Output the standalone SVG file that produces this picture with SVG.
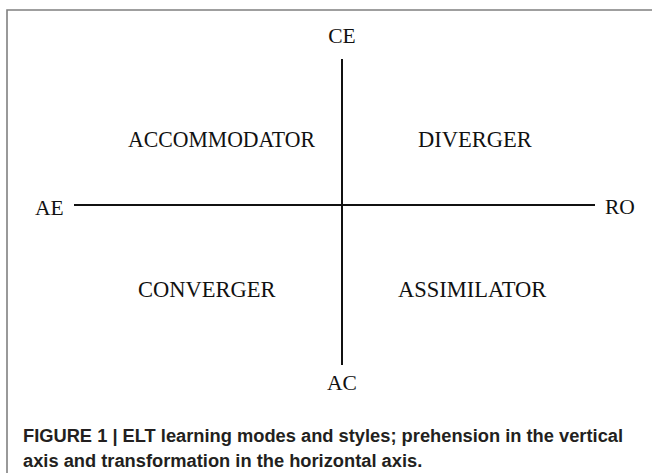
<svg xmlns="http://www.w3.org/2000/svg" width="652" height="473" viewBox="0 0 652 473">
<style>
.lbl{font-family:"Liberation Serif","Times New Roman",serif;font-size:22.5px;fill:#111}
.ax{font-family:"Liberation Serif","Times New Roman",serif;font-size:21.5px;fill:#111}
.cap{font-family:"Liberation Sans",Arial,sans-serif;font-size:18.3px;font-weight:bold;fill:#231f20}
.axis{stroke:#111;stroke-width:2;fill:none}
</style>
<rect x="0" y="0" width="652" height="473" fill="#fff"/>
<path d="M7,480 V10 H660" fill="none" stroke="#808080" stroke-width="1.6"/>
<g id="connectors">
<line class="axis" x1="342" y1="59" x2="342" y2="365"/>
<line class="axis" x1="74" y1="205" x2="595" y2="205"/>
</g>
<g id="CE"><text class="ax" x="342" y="43" text-anchor="middle">CE</text></g>
<g id="AC"><text class="ax" x="342" y="390" text-anchor="middle">AC</text></g>
<g id="AE"><text class="ax" x="35" y="215">AE</text></g>
<g id="RO"><text class="ax" x="605" y="214">RO</text></g>
<g id="accommodator"><text class="lbl" x="128" y="147" textLength="187" lengthAdjust="spacingAndGlyphs">ACCOMMODATOR</text></g>
<g id="diverger"><text class="lbl" x="418" y="147">DIVERGER</text></g>
<g id="converger"><text class="lbl" x="138" y="297">CONVERGER</text></g>
<g id="assimilator"><text class="lbl" x="398" y="297">ASSIMILATOR</text></g>
<g id="caption">
<text class="cap" x="23" y="442">FIGURE 1 | ELT learning modes and styles; prehension in the vertical</text>
<text class="cap" x="23" y="467">axis and transformation in the horizontal axis.</text>
</g>
</svg>
